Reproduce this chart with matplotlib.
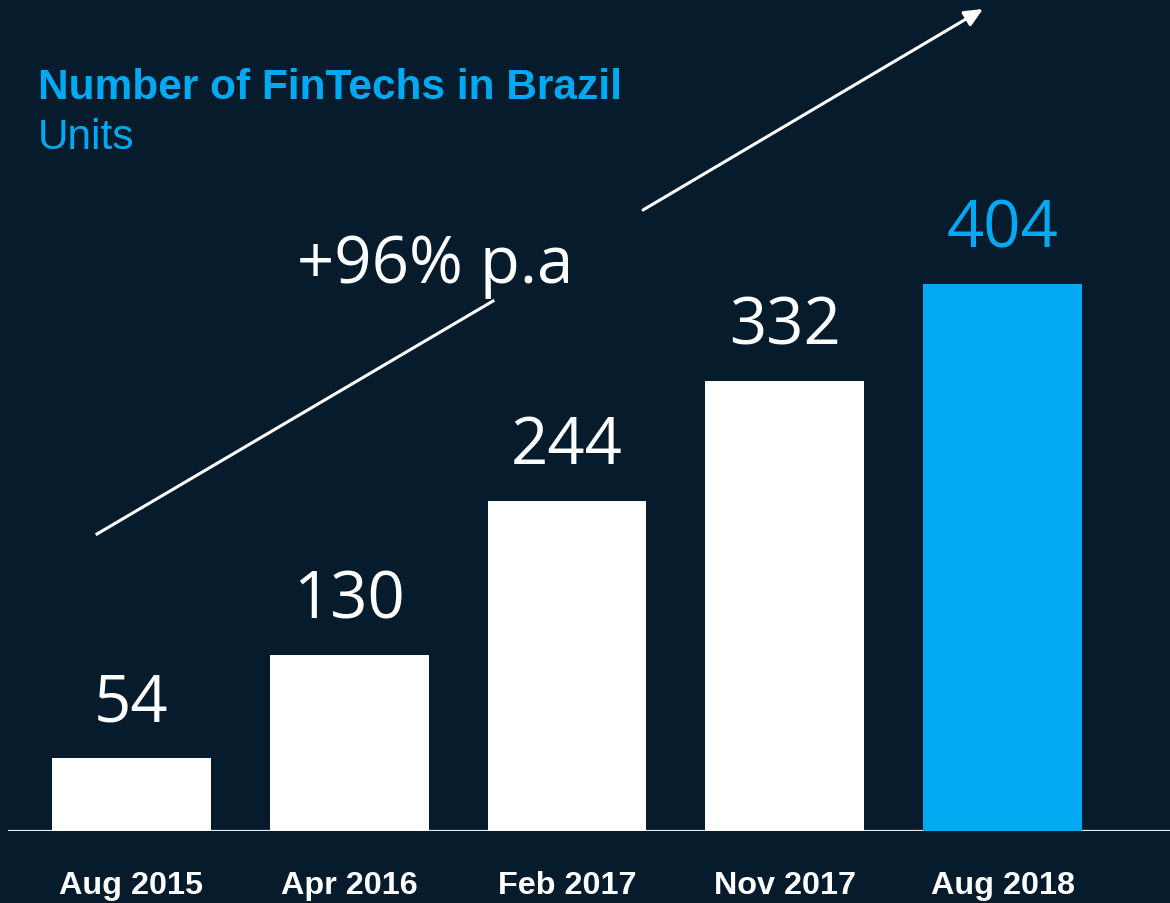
import matplotlib
matplotlib.use("Agg")
import matplotlib.pyplot as plt

# Data
periods = ["Aug 2015", "Apr 2016", "Feb 2017", "Nov 2017", "Aug 2018"]
fintechs = [54, 130, 244, 332, 404]
growth_label = "+96% p.a"
title = "Number of FinTechs in Brazil"
subtitle = "Units"

BG = "#061c2d"
BLUE = "#00a9f1"
WHITE = "#ffffff"

W, H = 1170, 904
fig = plt.figure(figsize=(W / 100, H / 100), dpi=100, facecolor=BG)

ax = fig.add_axes([8 / W, 72 / H, 1162 / W, 832 / H])
ax.set_facecolor(BG)
ax.set_xlim(-0.567, 4.769)
ax.set_ylim(0, 614.5)

colors = [WHITE] * (len(fintechs) - 1) + [BLUE]
x = list(range(len(periods)))
bars = ax.bar(x, fintechs, width=0.73, color=colors, zorder=2)
ax.axhline(0, color="#e8ecef", lw=1.6, zorder=1)

# value labels above each bar
for xi, v, c in zip(x, fintechs, colors):
    ax.annotate(str(v), xy=(xi, v), xytext=(0, 27), textcoords="offset points",
                ha="center", va="baseline", fontsize=47, color=c,
                family="Open Sans")

ax.set_xticks(x)
ax.set_xticklabels(periods, fontsize=23.3, fontweight="bold", color=WHITE,
                   family="Liberation Sans")
ax.tick_params(axis="x", length=0, pad=28)
ax.tick_params(axis="y", left=False, labelleft=False)
for s in ax.spines.values():
    s.set_visible(False)

# titles
fig.text(38 / W, 1 - 99 / H, title, fontsize=30.5, fontweight="bold",
         color=BLUE, family="Liberation Sans", ha="left", va="baseline")
fig.text(38 / W, 1 - 149 / H, subtitle, fontsize=30.5, color=BLUE,
         family="Liberation Sans", ha="left", va="baseline")

# growth arrow, broken around its label
p0 = (97 / W, 1 - 535 / H)
p1 = (493 / W, 1 - 302 / H)
p2 = (643 / W, 1 - 211 / H)
p3 = (983 / W, 1 - 10 / H)
fig.add_artist(plt.Line2D([p0[0], p1[0]], [p0[1], p1[1]],
                          transform=fig.transFigure, color=WHITE, lw=2.2))
fig.patches.append(matplotlib.patches.FancyArrowPatch(
    p2, p3, transform=fig.transFigure, arrowstyle="-|>,head_length=11,head_width=5",
    color=WHITE, lw=2.2, shrinkA=0, shrinkB=0))
fig.text(435 / W, 1 - 283 / H, growth_label, fontsize=47, color=WHITE,
         family="Open Sans", ha="center", va="baseline")

fig.savefig("out.png", dpi=100, facecolor=BG)
